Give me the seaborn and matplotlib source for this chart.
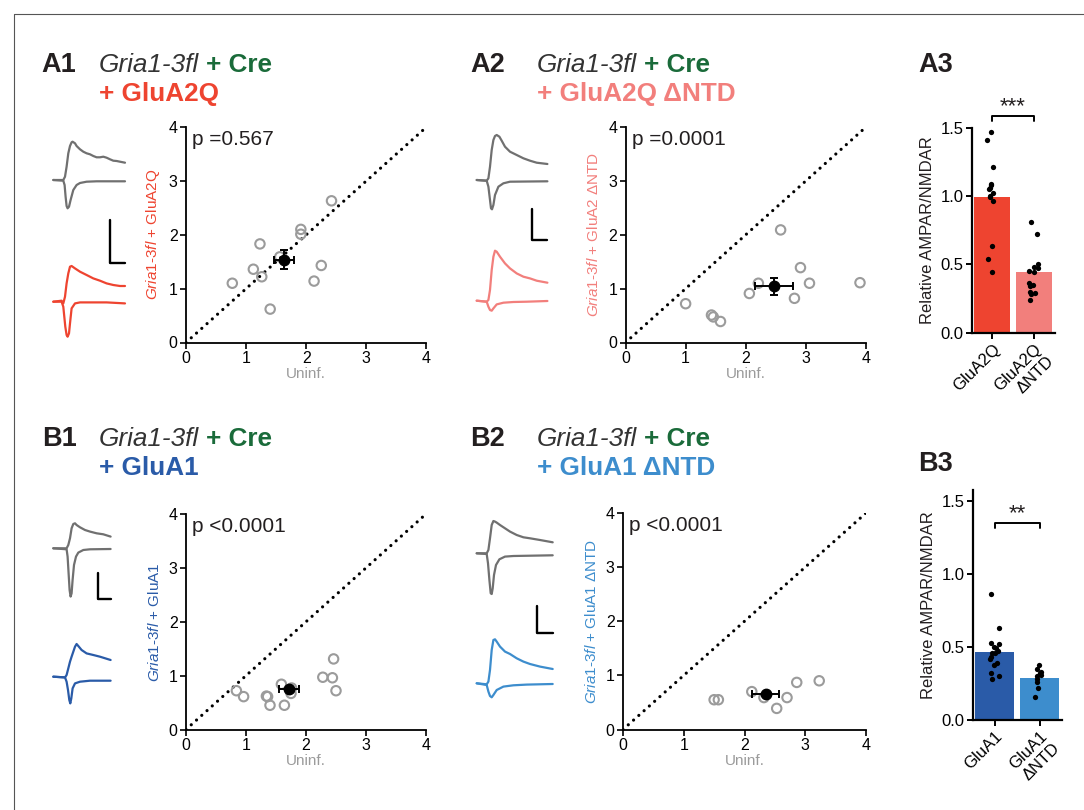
import numpy as np
import pandas as pd
import matplotlib
matplotlib.use("Agg")
import matplotlib.pyplot as plt
import seaborn as sns

sns.set_theme(style="ticks")
plt.rcParams['font.family'] = ['Liberation Sans', 'DejaVu Sans']
plt.rcParams['mathtext.fontset'] = 'custom'
plt.rcParams['mathtext.rm'] = 'Liberation Sans'
plt.rcParams['mathtext.it'] = 'Liberation Sans:italic'
plt.rcParams['mathtext.bf'] = 'Liberation Sans:bold'

# ---------------- data ----------------
# scatter panels: uninfected vs rescued (relative AMPAR/NMDAR)
a1_uninf = [0.77, 1.23, 1.12, 1.26, 1.40, 1.91, 1.91, 2.42, 2.13, 2.25, 1.56]
a1_resc = [1.10, 1.83, 1.36, 1.22, 0.62, 2.10, 2.01, 2.63, 1.14, 1.43, 1.59]
a1_mean = [1.63, 1.54]
a1_sem = [0.165, 0.175]
a1_p = "p =0.567"

a2_uninf = [1.00, 1.43, 1.46, 1.58, 2.06, 2.21, 2.58, 2.81, 2.91, 3.06, 3.90]
a2_resc = [0.72, 0.51, 0.475, 0.39, 0.91, 1.10, 2.09, 0.82, 1.39, 1.10, 1.11]
a2_mean = [2.47, 1.04]
a2_sem = [0.32, 0.15]
a2_p = "p =0.0001"

b1_uninf = [0.84, 0.96, 1.34, 1.36, 1.40, 1.59, 1.64, 1.75, 1.76, 2.28, 2.44, 2.46, 2.50]
b1_resc = [0.72, 0.61, 0.62, 0.61, 0.45, 0.84, 0.45, 0.67, 0.77, 0.97, 0.96, 1.31, 0.72]
b1_mean = [1.72, 0.75]
b1_sem = [0.17, 0.04]
b1_p = "p <0.0001"

b2_uninf = [1.50, 1.57, 2.12, 2.32, 2.53, 2.70, 2.86, 3.23]
b2_resc = [0.55, 0.55, 0.70, 0.59, 0.39, 0.59, 0.87, 0.90]
b2_mean = [2.35, 0.65]
b2_sem = [0.22, 0.03]
b2_p = "p <0.0001"

# bar panels
a3_cats = ["GluA2Q", "GluA2Q\nΔNTD"]
a3_bars = [0.99, 0.44]
a3_pts_glua2q = [1.47, 1.41, 1.21, 1.09, 1.08, 1.06, 1.05, 1.02, 1.00, 0.99, 0.96, 0.63, 0.54, 0.44]
a3_pts_ntd = [0.81, 0.72, 0.50, 0.48, 0.47, 0.45, 0.44, 0.36, 0.35, 0.34, 0.30, 0.29, 0.28, 0.24]
a3_sig = "***"

b3_cats = ["GluA1", "GluA1\nΔNTD"]
b3_bars = [0.465, 0.29]
b3_pts_glua1 = [0.86, 0.63, 0.53, 0.52, 0.50, 0.49, 0.47, 0.46, 0.46, 0.43, 0.42, 0.39, 0.38, 0.32, 0.30, 0.28]
b3_pts_ntd = [0.38, 0.35, 0.33, 0.32, 0.31, 0.30, 0.28, 0.26, 0.22, 0.16]
b3_sig = "**"

# example traces (time, current; arbitrary units)
a1_gray_up_t = [0, 10, 11.7, 13.3, 15, 16.7, 18.3, 19.3, 21.7, 23.3, 26.7, 30, 33.3, 36.7, 40, 43.3, 46.7, 50, 53.3, 56.7, 60, 63.3, 66.7, 71.7]
a1_gray_up_i = [0, 0, 3.3, 13.3, 26.7, 34, 37.7, 38.3, 36.7, 34, 30.7, 28.3, 26.7, 25.7, 24, 22.7, 22.7, 23.3, 22.3, 20.7, 19.3, 19, 18.3, 17.3]
a1_gray_dn_t = [0, 10, 11.3, 12.3, 13.3, 14.3, 15.7, 17.3, 20, 23.3, 26.7, 33.3, 43.3, 71.7]
a1_gray_dn_i = [0, -0.7, -5, -16.7, -26, -28.3, -26.7, -20, -10, -5, -3, -1.7, -1.3, -1.3]
a1_col_up_t = [0, 8.3, 10, 11.7, 13.3, 15, 16.7, 18.3, 21.7, 26.7, 33.3, 40, 46.7, 53.3, 60, 66.7, 71.7]
a1_col_up_i = [0, 1, -1.7, 5, 18.3, 28.3, 35, 35.7, 33.3, 30, 26.7, 23.3, 21, 18.3, 16.7, 15.7, 15.7]
a1_col_dn_t = [0, 8.3, 10, 11, 12, 13.3, 14.3, 15.7, 16.7, 18.3, 21.7, 26.7, 36.7, 53.3, 71.7]
a1_col_dn_i = [0, 0, -5, -15, -25, -33.3, -35, -31.7, -21.7, -6.7, -1.7, -0.7, -0.7, -0.7, -1.7]
a1_scale = [15, 42.7]

a2_gray_up_t = [0, 10, 11.7, 13.3, 15, 16.7, 18.3, 20, 22.7, 25, 28.3, 33.3, 40, 46.7, 53.3, 60, 70.7]
a2_gray_up_i = [0, -0.7, 1.7, 13.3, 30, 40, 44, 45, 43.3, 39.3, 33.3, 28.3, 25, 21.7, 19.3, 17.3, 16]
a2_gray_dn_t = [0, 10, 11.7, 13.3, 14.3, 15.3, 16.7, 18.3, 21.7, 26.7, 33.3, 70.7]
a2_gray_dn_i = [0, -0.7, -6.7, -20, -28.3, -29.3, -25, -15, -6.7, -3.3, -1.7, -1.3]
a2_col_up_t = [0, 10, 11.7, 13.3, 15, 16.7, 18.3, 20, 23.3, 28.3, 33.3, 40, 46.7, 53.3, 60, 70.7]
a2_col_up_i = [0, -1, 0.7, 10.7, 30.7, 44, 50, 49, 44, 37.3, 32.3, 27.3, 24, 22.3, 20, 18]
a2_col_dn_t = [0, 10, 11.7, 13.3, 15, 16.7, 20, 26.7, 36.7, 50, 70.7]
a2_col_dn_i = [0, -1, -6, -9.3, -10, -7.7, -3.7, -2, -1.3, -1, -0.3]
a2_scale = [15.7, 30.7]

b1_gray_up_t = [0, 13.3, 15, 16.7, 18.3, 20, 21.7, 23.3, 26.7, 31.7, 36.7, 43.3, 50, 57.3]
b1_gray_up_i = [0, 0, 3.3, 10, 20, 24.3, 25, 23.3, 21, 18.3, 16.7, 15, 14, 11.7]
b1_gray_dn_t = [0, 13.3, 14.3, 15.3, 16.3, 17.3, 18.3, 19.3, 20.7, 22.7, 25, 30, 36.7, 57.3]
b1_gray_dn_i = [0, -1, -8.3, -25, -41.7, -48.3, -45, -31.7, -16.7, -8.3, -4.3, -1.7, -1, -0.7]
b1_col_up_t = [0, 11.7, 13.3, 15, 16.7, 18.3, 20, 21.7, 23.3, 25, 28.3, 33.3, 40, 46.7, 57.3]
b1_col_up_i = [0, -0.7, 1.7, 8.3, 15, 20, 25, 30, 32.7, 30.7, 26.7, 23.3, 21.7, 20, 16.7]
b1_col_dn_t = [0, 11.7, 13.3, 14.7, 16, 17, 18, 19.3, 21.7, 26.7, 36.7, 57.3]
b1_col_dn_i = [0, -0.7, -5, -13.3, -23.3, -26.7, -21.7, -11.7, -6.7, -5, -4, -4]
b1_scale = [12.3, 26]

b2_gray_up_t = [0, 10, 11.7, 13.3, 15, 16.7, 18.3, 20, 23.3, 28.3, 33.3, 40, 46.7, 53.3, 63.3, 76]
b2_gray_up_i = [0, 0, 3.3, 15, 28.3, 32.3, 31.7, 30.7, 28.3, 25, 21.7, 18.3, 16, 15, 13.3, 11]
b2_gray_dn_t = [0, 10, 11.3, 12.7, 14, 15, 16, 17.3, 19.3, 22.7, 28.3, 36.7, 76]
b2_gray_dn_i = [0, -0.7, -10, -26.7, -40, -40.7, -35, -21.7, -11.7, -6, -3.3, -2.7, -2]
b2_col_up_t = [0, 10, 11.7, 13.3, 15, 16.7, 18.3, 20, 23.3, 28.3, 33.3, 40, 46.7, 53.3, 63.3, 76]
b2_col_up_i = [0, -1, 1.7, 13.3, 33.3, 43.3, 44, 41.7, 36.7, 31.7, 29.3, 25, 21.7, 19.3, 16.7, 14.3]
b2_col_dn_t = [0, 10, 11.7, 13.3, 15, 16.7, 20, 26.7, 36.7, 50, 76]
b2_col_dn_i = [0, -1.7, -8.3, -12.7, -14, -11.7, -6.7, -3.3, -2, -1.3, -0.7]
b2_scale = [16, 27.3]

# ---------------- style ----------------
W, H = 1084, 810
GRAY_TR = "#707070"
RED = "#ee4430"
PINK = "#f27f7c"
DBLUE = "#2a5ba8"
LBLUE = "#3d8dcd"
GREEN = "#1a6b3a"
OPEN = "#9b9b9b"
TXT = "#231f20"

fig = plt.figure(figsize=(W / 100, H / 100), dpi=100)


def px_axes(left, top, right, bottom):
    return fig.add_axes([left / W, 1 - bottom / H, (right - left) / W, (bottom - top) / H])


# overlay for traces, titles, frame
ov = fig.add_axes([0, 0, 1, 1], zorder=-1)
ov.set_xlim(0, W)
ov.set_ylim(H, 0)
ov.axis("off")
ov.plot([14, 14, W], [H, 14, 14], color="#555555", lw=0.8)


def scatter_panel(box, ux, ry, mean, sem, ptxt, ylabel, ycolor):
    ax = px_axes(*box)
    ax.axline((0, 0), (1, 1), color="black", lw=2.3, ls=(0, (0.01, 2.2)),
              dash_capstyle="round", zorder=1)
    sns.scatterplot(x=ux, y=ry, ax=ax, s=46, facecolor="none", edgecolor=OPEN,
                    linewidth=1.5, zorder=3, clip_on=False)
    ax.errorbar(mean[0], mean[1], xerr=sem[0], yerr=sem[1], fmt="o", color="black",
                ms=7.5, capsize=3.2, elinewidth=1.4, capthick=1.4, zorder=5, clip_on=False)
    ax.set_xlim(0, 4)
    ax.set_ylim(0, 4)
    ax.set_xticks([0, 1, 2, 3, 4])
    ax.set_yticks([0, 1, 2, 3, 4])
    sns.despine(ax=ax)
    for s in ["left", "bottom"]:
        ax.spines[s].set_linewidth(1.3)
        ax.spines[s].set_color("black")
    ax.tick_params(length=4, width=1.2, labelsize=11.5, colors="black", pad=2)
    ax.set_xlabel("Uninf.", color=OPEN, fontsize=11, labelpad=1)
    ax.set_ylabel(ylabel, color=ycolor, fontsize=11, labelpad=5)
    ax.text(0.1, 3.76, ptxt, fontsize=15, color=TXT, va="center", ha="left")
    return ax


scatter_panel((186, 127, 426.5, 342.5), a1_uninf, a1_resc, a1_mean, a1_sem, a1_p,
              r"$\mathit{Gria1}$-$\mathit{3fl}$ + GluA2Q", RED)
scatter_panel((625.5, 127, 866, 342.5), a2_uninf, a2_resc, a2_mean, a2_sem, a2_p,
              r"$\mathit{Gria1}$-$\mathit{3fl}$ + GluA2 ΔNTD", PINK)
scatter_panel((186, 514, 426, 729.5), b1_uninf, b1_resc, b1_mean, b1_sem, b1_p,
              r"$\mathit{Gria1}$-$\mathit{3fl}$ + GluA1", DBLUE)
scatter_panel((623, 513, 866, 729.5), b2_uninf, b2_resc, b2_mean, b2_sem, b2_p,
              r"$\mathit{Gria1}$-$\mathit{3fl}$ + GluA1 ΔNTD", LBLUE)


def bar_panel(box, cats, bars, pts1, pts2, colors, ytop, sig, sig_y, seed):
    ax = px_axes(*box)
    sns.barplot(x=cats, y=bars, hue=cats, palette=colors, legend=False, ax=ax,
                width=0.86, linewidth=0, errorbar=None, saturation=1)
    df = pd.DataFrame({"g": [cats[0]] * len(pts1) + [cats[1]] * len(pts2),
                       "v": pts1 + pts2})
    np.random.seed(seed)
    sns.stripplot(data=df, x="g", y="v", color="black", size=3.8, jitter=0.13,
                  ax=ax, zorder=4, clip_on=False)
    ax.set_xlim(-0.48, 1.5)
    ax.set_ylim(0, ytop)
    ax.set_yticks([0, 0.5, 1.0, 1.5])
    ax.set_yticklabels(["0.0", "0.5", "1.0", "1.5"])
    sns.despine(ax=ax)
    for s in ["left", "bottom"]:
        ax.spines[s].set_linewidth(1.6)
        ax.spines[s].set_color("black")
    ax.tick_params(length=4, width=1.4, labelsize=12, colors="black", pad=2)
    ax.set_xticks([0, 1])
    ax.set_xticklabels(cats, rotation=45, ha="right", rotation_mode="anchor",
                       fontsize=12)
    ax.set_xlabel("")
    ax.set_ylabel("Relative AMPAR/NMDAR", fontsize=12, color=TXT, labelpad=4)
    tick = 0.035 * ytop / 1.5
    ax.plot([0, 0, 1, 1], [sig_y - tick, sig_y, sig_y, sig_y - tick], color="black",
            lw=1.4, clip_on=False)
    ax.text(0.5, sig_y - 0.01, sig, ha="center", va="bottom", fontsize=16,
            color=TXT, clip_on=False)
    return ax


bar_panel((972, 127.5, 1055, 332.5), a3_cats, a3_bars, a3_pts_glua2q, a3_pts_ntd,
          [RED, PINK], 1.5, a3_sig, 1.585, 2)
bar_panel((973, 490, 1062, 720), b3_cats, b3_bars, b3_pts_glua1, b3_pts_ntd,
          [DBLUE, LBLUE], 1.575, b3_sig, 1.35, 5)


# traces
def draw_trace(x0, y0, t, i, color):
    ov.plot(np.asarray(t) + x0, y0 - np.asarray(i), color=color, lw=1.6,
            solid_joinstyle="round", solid_capstyle="round")


def scalebar(x0, y0, size):
    ov.plot([x0, x0, x0 + size[0]], [y0 - size[1], y0, y0], color="black", lw=1.7)


draw_trace(53.3, 180, a1_gray_up_t, a1_gray_up_i, GRAY_TR)
draw_trace(53.3, 180, a1_gray_dn_t, a1_gray_dn_i, GRAY_TR)
draw_trace(53.3, 301.7, a1_col_up_t, a1_col_up_i, RED)
draw_trace(53.3, 301.7, a1_col_dn_t, a1_col_dn_i, RED)
scalebar(110, 262.7, a1_scale)

draw_trace(476.7, 180, a2_gray_up_t, a2_gray_up_i, GRAY_TR)
draw_trace(476.7, 180, a2_gray_dn_t, a2_gray_dn_i, GRAY_TR)
draw_trace(476.7, 300.7, a2_col_up_t, a2_col_up_i, PINK)
draw_trace(476.7, 300.7, a2_col_dn_t, a2_col_dn_i, PINK)
scalebar(531.7, 240, a2_scale)

draw_trace(53.3, 548.3, b1_gray_up_t, b1_gray_up_i, GRAY_TR)
draw_trace(53.3, 548.3, b1_gray_dn_t, b1_gray_dn_i, GRAY_TR)
draw_trace(53.3, 676.7, b1_col_up_t, b1_col_up_i, DBLUE)
draw_trace(53.3, 676.7, b1_col_dn_t, b1_col_dn_i, DBLUE)
scalebar(98.3, 599.3, b1_scale)

draw_trace(476.7, 553.3, b2_gray_up_t, b2_gray_up_i, GRAY_TR)
draw_trace(476.7, 553.3, b2_gray_dn_t, b2_gray_dn_i, GRAY_TR)
draw_trace(476.7, 683.3, b2_col_up_t, b2_col_up_i, LBLUE)
draw_trace(476.7, 683.3, b2_col_dn_t, b2_col_dn_i, LBLUE)
scalebar(536.7, 633.3, b2_scale)

# titles
fig.canvas.draw()
renderer = fig.canvas.get_renderer()


def title(lx, gx, y1, label, line2, c2):
    ov.text(lx, y1, label, fontsize=19.5, fontweight="bold", color=TXT, va="baseline")
    if gx is None:
        return
    t = ov.text(gx, y1, "Gria1-3fl", fontsize=18.8, style="italic", color="#333333",
                va="baseline")
    bb = t.get_window_extent(renderer)
    ov.text(gx + bb.width + 7, y1, "+ Cre", fontsize=18.8, fontweight="bold",
            color=GREEN, va="baseline")
    ov.text(gx, y1 + 29, line2, fontsize=18.8, fontweight="bold", color=c2,
            va="baseline")


title(41.7, 99, 71.5, "A1", "+ GluA2Q", RED)
title(470, 537, 71.5, "A2", "+ GluA2Q ΔNTD", PINK)
title(918, None, 71.5, "A3", None, None)
title(41.7, 99, 446, "B1", "+ GluA1", DBLUE)
title(470, 537, 446, "B2", "+ GluA1 ΔNTD", LBLUE)
title(918, None, 471, "B3", None, None)

fig.savefig("out.png", dpi=100)
